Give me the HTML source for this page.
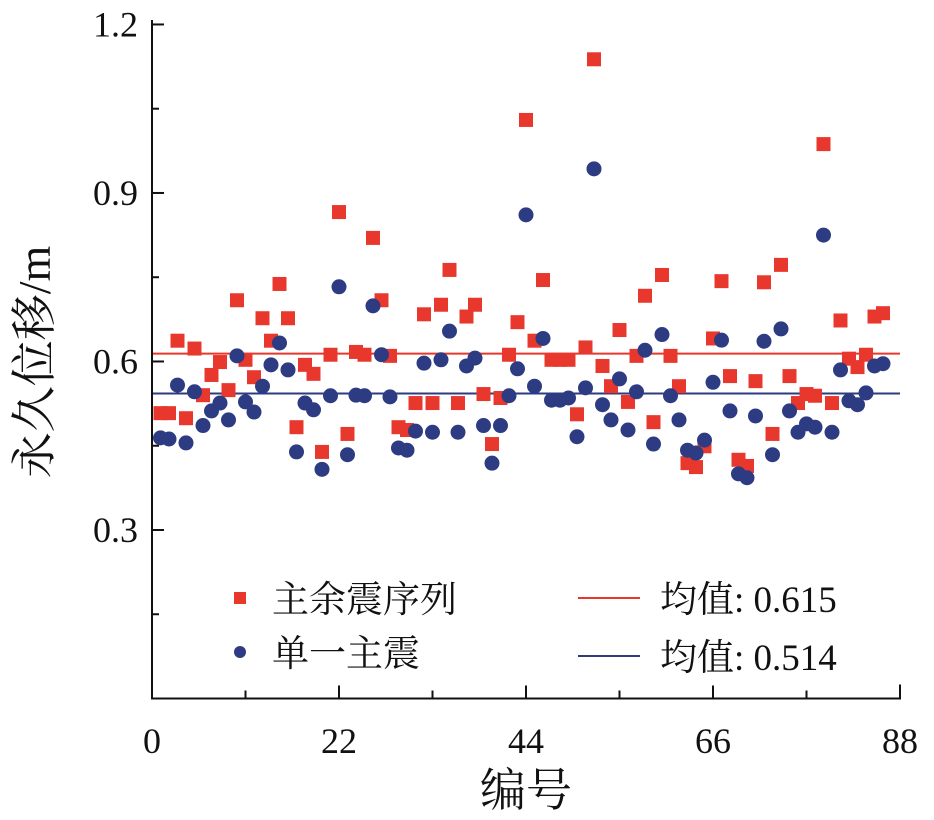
<!DOCTYPE html>
<html><head><meta charset="utf-8"><style>
body{margin:0;background:#fff}
svg text{font-family:"Liberation Serif","Noto Serif CJK SC",serif;fill:#111}
</style></head><body>
<svg id="chart" width="934" height="815" viewBox="0 0 934 815" xmlns="http://www.w3.org/2000/svg">
<g id="marks"></g>
<g id="axes"></g>
<text transform="translate(50,362) rotate(-90)" text-anchor="middle" font-size="46">永久位移/m</text>
<text x="526" y="806" text-anchor="middle" font-size="46">编号</text>
<g>
<rect x="234" y="592" width="12" height="12" fill="#e8382d"/>
<text x="272" y="612" font-size="37">主余震序列</text>
<circle cx="240" cy="652" r="6" fill="#2d3c82"/>
<text x="272" y="666" font-size="37">单一主震</text>
<line x1="578" y1="598" x2="640" y2="598" stroke="#e8382d" stroke-width="2"/>
<text x="660" y="612" font-size="37">均值: 0.615</text>
<line x1="578" y1="656" x2="640" y2="656" stroke="#2d3c82" stroke-width="2"/>
<text x="660" y="670" font-size="37">均值: 0.514</text>
</g>
</svg>
<script>
const redValues=[0.508,0.508,0.637,0.499,0.623,0.540,0.576,0.599,0.549,0.709,0.603,0.572,0.677,0.637,0.738,0.677,0.483,0.594,0.578,0.439,0.612,0.866,0.471,0.617,0.612,0.820,0.709,0.610,0.483,0.478,0.526,0.684,0.526,0.701,0.763,0.526,0.680,0.701,0.542,0.453,0.535,0.612,0.670,1.030,0.637,0.745,0.603,0.603,0.603,0.506,0.625,1.138,0.592,0.556,0.656,0.528,0.610,0.717,0.492,0.754,0.610,0.556,0.419,0.412,0.449,0.641,0.743,0.574,0.425,0.414,0.565,0.741,0.471,0.772,0.574,0.526,0.542,0.539,0.987,0.526,0.673,0.605,0.590,0.612,0.680,0.686];
const blueValues=[0.464,0.462,0.558,0.455,0.546,0.486,0.512,0.526,0.496,0.610,0.528,0.510,0.556,0.594,0.633,0.585,0.439,0.526,0.514,0.408,0.539,0.733,0.434,0.540,0.539,0.699,0.612,0.537,0.446,0.442,0.476,0.597,0.474,0.603,0.654,0.474,0.592,0.606,0.486,0.419,0.486,0.539,0.587,0.861,0.556,0.641,0.531,0.531,0.535,0.466,0.553,0.943,0.523,0.496,0.569,0.478,0.546,0.620,0.453,0.648,0.539,0.496,0.442,0.437,0.460,0.563,0.638,0.512,0.400,0.393,0.503,0.636,0.434,0.658,0.512,0.474,0.489,0.483,0.825,0.474,0.585,0.530,0.523,0.544,0.592,0.596];
const meanLines=[0.614,0.543];
const xTicks=[0,22,44,66,88];
const yTicks=[0.3,0.6,0.9,1.2];
const NS='http://www.w3.org/2000/svg';
const X0=152,X1=900,Y0=698.5,PXU=561.7;
function sx(v){return X0+(X1-X0)*v/88;}
function sy(v){return Y0-v*PXU;}
function mk(tag,attrs,parent){const e=document.createElementNS(NS,tag);for(const k in attrs)e.setAttribute(k,attrs[k]);parent.appendChild(e);return e;}
const marks=document.getElementById('marks'),axes=document.getElementById('axes');
const mc=['#e8382d','#2d3c82'];
meanLines.forEach((m,i)=>{
 const l=mk('line',{x1:X0,x2:X1,y1:sy(m),y2:sy(m),stroke:mc[i],'stroke-width':2},marks);
 
 
});
redValues.forEach((v,i)=>{
 const r=mk('rect',{x:sx(i+1)-7,y:sy(v)-7,width:14,height:14,fill:mc[0]},marks);
 
 
});
blueValues.forEach((v,i)=>{
 const c=mk('circle',{cx:sx(i+1),cy:sy(v),r:7.5,fill:mc[1]},marks);
 
 
});
const st={stroke:'#111','stroke-width':2};
const ax=mk('path',{d:`M${X0},20 V${Y0} H${X1} V${Y0-14}`,fill:'none',...st},axes);


xTicks.forEach((t,i)=>{
 mk('line',{x1:sx(t),x2:sx(t),y1:Y0,y2:Y0-13,...st},axes);
 if(i<xTicks.length-1){const m=(t+xTicks[i+1])/2;mk('line',{x1:sx(m),x2:sx(m),y1:Y0,y2:Y0-8,...st},axes);}
 const tx=mk('text',{x:sx(t),y:753,'text-anchor':'middle','font-size':36},axes);
 tx.textContent=t;
 
 
});
yTicks.forEach(t=>{
 mk('line',{x1:X0,x2:X0+12,y1:sy(t),y2:sy(t),...st},axes);
 mk('line',{x1:X0,x2:X0+7,y1:sy(t-0.15),y2:sy(t-0.15),...st},axes);
 const tx=mk('text',{x:138,y:sy(t)+12,'text-anchor':'end','font-size':36},axes);
 tx.textContent=t.toFixed(1);
 
 
});
</script>
</body></html>
